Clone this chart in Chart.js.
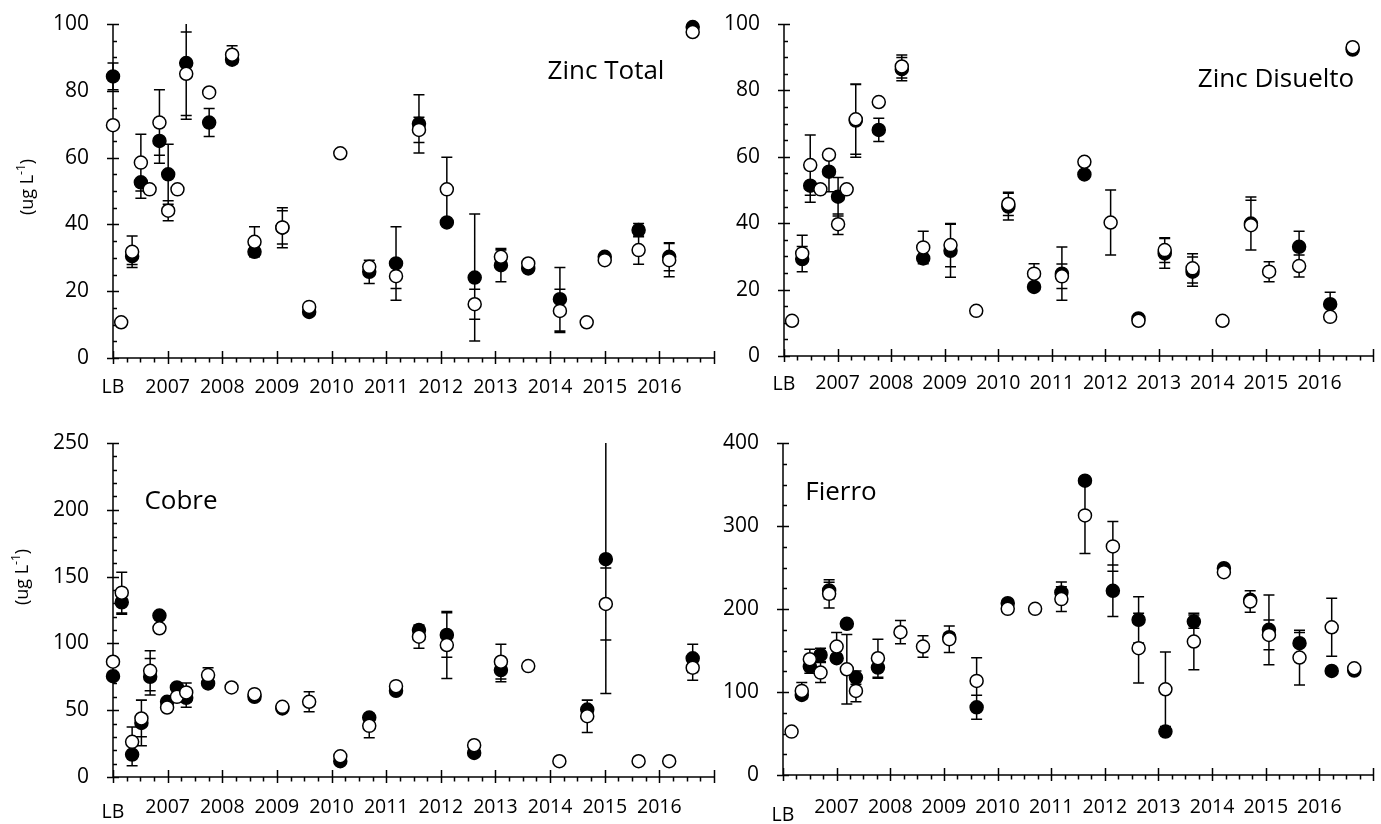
<!DOCTYPE html>
<html lang="es">
<head>
  <meta charset="UTF-8" />
  <title>Zinc, Cobre, Fierro</title>
  <script src="https://cdn.jsdelivr.net/npm/chart.js"></script>
  <style>
    body { margin: 0; background: #fff; width: 1381px; height: 824px; position: relative; overflow: hidden; }
    canvas { position: absolute; }
  </style>
</head>
<body>
  <canvas id="zincTotal" width="722" height="410" style="left:0;top:0"></canvas>
  <canvas id="zincDisuelto" width="681" height="410" style="left:700px;top:0"></canvas>
  <canvas id="cobre" width="722" height="414" style="left:0;top:410px"></canvas>
  <canvas id="fierro" width="681" height="414" style="left:700px;top:410px"></canvas>

  <script>
    // eje x: LB = 0, luego un año por unidad
    const xLabels = ['LB', '2007', '2008', '2009', '2010', '2011', '2012', '2013', '2014', '2015', '2016'];

    // Zinc Total
    const zincTotalX = [0, 0.15, 0.35, 0.51, 0.67, 0.85, 1.01, 1.18, 1.34, 1.76, 2.18, 2.59, 3.1, 3.59, 4.16, 4.69, 5.18, 5.6, 6.11, 6.62, 7.1, 7.6, 8.18, 8.67, 9.0, 9.62, 10.18, 10.61];
    const zincTotalSolid = [84.3, null, 30.5, 52.6, null, 65, 55, null, 88.3, 70.5, 89.3, 31.8, 39, 13.8, null, 25.8, 28.3, 70.1, 40.6, 24.1, 27.8, 26.8, 17.6, null, 30.3, 38.3, 30.3, 99.1];
    const zincTotalSolidErr = [4, null, 2.5, 4.8, null, 6.7, 9, null, 16.8, 4.2, 0, 0, 6, 0, null, 3.5, 11, 8.7, 0, 19, 5, 0, 9.5, null, 0, 2, 4.2, 0];
    const zincTotalHollow = [69.7, 10.7, 31.8, 58.5, 50.5, 70.5, 44.1, 50.5, 85.1, 79.5, 90.8, 34.8, 39.1, 15.3, 61.3, 27.3, 24.5, 68.3, 50.5, 16.1, 30.3, 28.3, 14.1, 10.7, 29.3, 32.3, 29.3, 97.6];
    const zincTotalHollowErr = [0, 0, 4.7, 8.5, 0, 9.8, 3, 0, 12.5, 0, 2.7, 4.5, 5, 0, 0, 0, 3.7, 3.8, 9.6, 4.5, 2, 0, 6.5, 0, 0, 4.2, 5, 0];

    // Zinc Disuelto
    const zincDisX = [0.15, 0.34, 0.49, 0.68, 0.84, 1.01, 1.17, 1.34, 1.77, 2.2, 2.6, 3.11, 3.59, 4.19, 4.67, 5.19, 5.61, 6.1, 6.62, 7.11, 7.63, 8.19, 8.72, 9.06, 9.62, 10.2, 10.62];
    const zincDisSolid = [null, 29.2, 51.3, null, 55.5, 48, null, 70.9, 68.1, 86.4, 29.4, 31.7, null, 45, 20.8, 24.8, 54.7, null, 11.3, 30.9, 25.4, null, 39.9, null, 32.9, 15.6, 92.3];
    const zincDisSolidErr = [null, 3.8, 5, null, 6, 5.8, null, 11, 3.5, 3.5, 0, 8, null, 4, 0, 8, 0, null, 0, 4.5, 4.4, null, 8, null, 4.7, 3.6, 0];
    const zincDisHollow = [10.6, 30.9, 57.5, 50.2, 60.6, 39.7, 50.2, 71.3, 76.5, 87.2, 32.7, 33.4, 13.6, 45.8, 24.8, 24, 58.5, 40.2, 10.6, 31.9, 26.4, 10.6, 39.4, 25.4, 27.1, 11.8, 93];
    const zincDisHollowErr = [0, 5.5, 9.1, 0, 0, 3.1, 0, 10.5, 0, 3.5, 4.9, 6.5, 0, 3.5, 3, 3.7, 0, 9.8, 0, 3.7, 4.4, 0, 7.5, 3, 3.3, 0, 0];

    // Cobre
    const cobreX = [0, 0.16, 0.35, 0.52, 0.68, 0.85, 0.99, 1.17, 1.34, 1.74, 2.17, 2.59, 3.1, 3.59, 4.16, 4.69, 5.18, 5.6, 6.11, 6.61, 7.1, 7.6, 8.17, 8.68, 9.02, 9.62, 10.18, 10.61];
    const cobreSolid = [75.5, 130.8, 16.8, 40.5, 75, 120.8, 56.3, 67, 59.3, 70, null, 60, 51.3, null, 11.8, 44.5, 64.5, 110, 106.3, 18, 80, null, null, 50.5, 163, null, null, 88.8];
    const cobreSolidErr = [0, 9, 8.3, 17.2, 13.7, 0, 0, 0, 7, 0, null, 0, 0, null, 0, 3, 0, 3, 16.7, 0, 8.7, null, null, 7, 100.5, null, null, 10.5];
    const cobreHollow = [86.3, 138, 26.3, 43.8, 79.5, 111.3, 52, 60, 63.3, 76.3, 67, 62, 52.5, 56.3, 15.5, 38.3, 68, 105, 98.8, 23.8, 86.3, 83, 11.8, 45.5, 129.5, 11.8, 11.8, 81.8];
    const cobreHollowErr = [0, 15.3, 11.2, 13.7, 15, 0, 0, 0, 7, 5.5, 0, 0, 0, 7.5, 0, 9, 0, 8.7, 25, 0, 13, 0, 0, 12.2, 27, 0, 0, 9.3];

    // Fierro
    const fierroX = [0.16, 0.35, 0.5, 0.7, 0.86, 1.0, 1.19, 1.36, 1.77, 2.19, 2.61, 3.1, 3.61, 4.19, 4.7, 5.19, 5.63, 6.15, 6.63, 7.13, 7.66, 8.22, 8.71, 9.06, 9.63, 10.23, 10.65];
    const fierroSolid = [null, 96.5, 130.7, 144.7, 222.3, 140.7, 182.1, 117.4, 129.4, null, null, 166, 81.6, 207, null, 219.9, 354.6, 221.9, 186.9, 52.3, 184.9, 249.2, 211, 174.9, 158.8, 125.4, 125.8];
    const fierroSolidErr = [null, 5, 8, 8, 10, 0, 0, 8, 12.8, null, null, 5, 14.5, 0, null, 12.5, 0, 31, 28, 0, 8, 0, 0, 42, 13, 0, 0];
    const fierroHollow = [52.3, 101.3, 139.5, 123.4, 218.3, 154.8, 127.4, 101.3, 140.7, 172, 154.8, 163.6, 113.4, 200.2, 200.2, 211.9, 312.8, 275.4, 152.8, 103.3, 160.8, 244.4, 209, 168.8, 141.5, 178, 128.6];
    const fierroHollowErr = [0, 10, 12, 12, 17, 17, 42, 13, 23, 14, 13, 16, 28, 0, 0, 15, 46, 30, 42, 45, 34, 0, 13, 18, 33, 35, 0];

    const FONT = '"Open Sans", sans-serif';

    function pts(xs, ys, es) {
      const out = [];
      xs.forEach((x, i) => {
        if (ys[i] != null) out.push({ x: x, y: ys[i], e: es[i] || 0 });
      });
      return out;
    }

    // ejes estilo Excel, barras de error y textos
    const decor = {
      id: 'decor',
      beforeDatasetsDraw(chart, args, o) {
        const ctx = chart.ctx, a = chart.chartArea;
        const xs = chart.scales.x, ys = chart.scales.y;
        ctx.save();
        ctx.strokeStyle = '#000';
        ctx.lineWidth = 1.5;
        ctx.beginPath();
        ctx.moveTo(a.left, a.top);
        ctx.lineTo(a.left, a.bottom);
        ctx.lineTo(a.right, a.bottom);
        // y ticks
        for (let v = 0; v <= o.yMax + 1e-6; v += o.yMinor) {
          const p = Math.round(ys.getPixelForValue(v)) + 0.5;
          const major = Math.abs(v / o.yMajor - Math.round(v / o.yMajor)) < 1e-6;
          ctx.moveTo(major ? a.left - 6 : a.left, p);
          ctx.lineTo(major ? a.left + 6 : a.left + 4, p);
        }
        // x ticks
        for (let v = 0; v <= 11 + 1e-6; v += 0.25) {
          const p = Math.round(xs.getPixelForValue(v)) + 0.5;
          const major = Math.abs(v - Math.round(v)) < 1e-6;
          ctx.moveTo(p, major ? a.bottom - 7 : a.bottom);
          ctx.lineTo(p, major ? a.bottom + 6 : a.bottom + 4.5);
        }
        ctx.stroke();

        // barras de error
        ctx.save();
        ctx.beginPath();
        ctx.rect(a.left - 10, a.top, a.right - a.left + 20, a.bottom - a.top);
        ctx.clip();
        ctx.beginPath();
        chart.data.datasets.forEach(ds => {
          ds.data.forEach(d => {
            if (!d.e) return;
            const px = xs.getPixelForValue(d.x);
            const top = ys.getPixelForValue(d.y + d.e);
            const bot = ys.getPixelForValue(d.y - d.e);
            ctx.moveTo(px, top); ctx.lineTo(px, bot);
            ctx.moveTo(px - 5.5, top); ctx.lineTo(px + 5.5, top);
            ctx.moveTo(px - 5.5, bot); ctx.lineTo(px + 5.5, bot);
          });
        });
        ctx.stroke();
        ctx.restore();

        // etiquetas x
        ctx.fillStyle = '#000';
        ctx.font = '19.5px ' + FONT;
        ctx.textAlign = 'center';
        ctx.textBaseline = 'middle';
        xLabels.forEach((t, i) => {
          const dy = i === 0 ? o.lbDy : o.labelDy;
          ctx.fillText(t, xs.getPixelForValue(i), a.bottom + dy);
        });
        ctx.restore();
      },
      afterDraw(chart, args, o) {
        const ctx = chart.ctx;
        ctx.save();
        ctx.fillStyle = '#000';
        ctx.textBaseline = 'middle';
        ctx.textAlign = 'center';
        ctx.font = '26px ' + FONT;
        ctx.fillText(o.title, o.titleX, o.titleY);
        if (o.yTitle) {
          ctx.translate(o.yTitleX, o.yTitleY);
          ctx.rotate(-Math.PI / 2);
          ctx.font = '18px ' + FONT;
          const w1 = ctx.measureText('(ug L').width;
          ctx.font = '12px ' + FONT;
          const w2 = ctx.measureText('-1').width;
          ctx.font = '18px ' + FONT;
          const w3 = ctx.measureText(')').width;
          let x = -(w1 + w2 + w3) / 2;
          ctx.textAlign = 'left';
          ctx.fillText('(ug L', x, 0);
          x += w1;
          ctx.font = '12px ' + FONT;
          ctx.fillText('-1', x, -6);
          x += w2;
          ctx.font = '18px ' + FONT;
          ctx.fillText(')', x, 0);
        }
        ctx.restore();
      }
    };

    function makePanel(id, xs, solid, solidErr, hollow, hollowErr, cfg) {
      return new Chart(document.getElementById(id), {
        type: 'scatter',
        data: {
          datasets: [
            { data: pts(xs, hollow, hollowErr), backgroundColor: '#fff', borderColor: '#000', borderWidth: 1.5, pointRadius: 6.5, order: 0, clip: false },
            { data: pts(xs, solid, solidErr), backgroundColor: '#000', borderColor: '#000', borderWidth: 1.5, pointRadius: 6.5, order: 1, clip: false }
          ]
        },
        options: {
          responsive: false,
          animation: false,
          devicePixelRatio: 1,
          layout: { padding: { top: cfg.padTop, right: cfg.padRight, left: 0, bottom: 0 } },
          plugins: { legend: { display: false }, tooltip: { enabled: false }, decor: cfg },
          scales: {
            x: {
              type: 'linear', min: 0, max: 11,
              grid: { display: false }, border: { display: false },
              ticks: { display: false },
              afterFit: s => { s.height = cfg.xAxisH; s.paddingLeft = 0; s.paddingRight = 0; }
            },
            y: {
              min: 0, max: cfg.yMax,
              grid: { display: false }, border: { display: false },
              ticks: { stepSize: cfg.yMajor, padding: 16, color: '#000', font: { family: FONT, size: 21 } },
              afterFit: s => { s.width = cfg.yAxisW; s.paddingTop = 0; s.paddingBottom = 0; }
            }
          }
        },
        plugins: [decor]
      });
    }

    makePanel('zincTotal', zincTotalX, zincTotalSolid, zincTotalSolidErr, zincTotalHollow, zincTotalHollowErr, {
      padTop: 24, padRight: 7, xAxisH: 52, yAxisW: 113, yMax: 100, yMajor: 20, yMinor: 5,
      labelDy: 29, lbDy: 29, title: 'Zinc Total', titleX: 606, titleY: 72,
      yTitle: true, yTitleX: 28, yTitleY: 187
    });
    makePanel('zincDisuelto', zincDisX, zincDisSolid, zincDisSolidErr, zincDisHollow, zincDisHollowErr, {
      padTop: 24, padRight: 2, xAxisH: 54, yAxisW: 84, yMax: 100, yMajor: 20, yMinor: 5,
      labelDy: 27, lbDy: 28, title: 'Zinc Disuelto', titleX: 576, titleY: 80,
      yTitle: false
    });
    makePanel('cobre', cobreX, cobreSolid, cobreSolidErr, cobreHollow, cobreHollowErr, {
      padTop: 33, padRight: 7, xAxisH: 47, yAxisW: 113, yMax: 250, yMajor: 50, yMinor: 10,
      labelDy: 30, lbDy: 35, title: 'Cobre', titleX: 181, titleY: 92,
      yTitle: true, yTitleX: 23, yTitleY: 167
    });
    makePanel('fierro', fierroX, fierroSolid, fierroSolidErr, fierroHollow, fierroHollowErr, {
      padTop: 33, padRight: 2, xAxisH: 49, yAxisW: 83, yMax: 400, yMajor: 100, yMinor: 25,
      labelDy: 32, lbDy: 40, title: 'Fierro', titleX: 141, titleY: 83,
      yTitle: false
    });
  </script>
</body>
</html>
